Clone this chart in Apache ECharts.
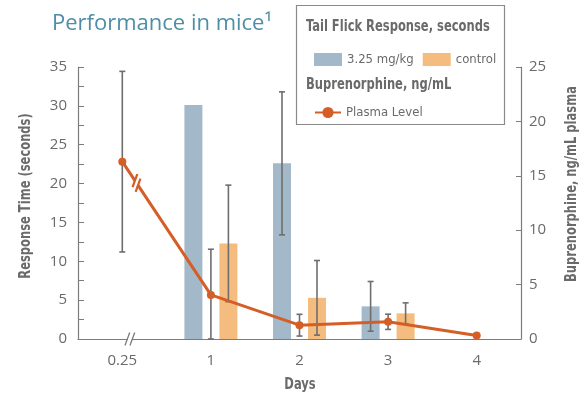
<!DOCTYPE html>
<html>
<head>
<meta charset="utf-8">
<script src="https://cdn.jsdelivr.net/npm/echarts@6/dist/echarts.min.js"></script>
<style>
  html, body { margin: 0; padding: 0; background: #fff; }
  #main { width: 585px; height: 393px; }
</style>
</head>
<body>
<div id="main"></div>
<script>
// values
var days = ['0.25', '1', '2', '3', '4'];
var dose = [null, 30.1, 22.6, 4.2, null];          // 3.25 mg/kg, seconds
var doseErr = [null, null, 9.2, 3.2, null];
var control = [null, 12.3, 5.3, 3.3, null];        // control, seconds
var controlErr = [null, 7.5, 4.8, 1.35, null];
var plasma = [16.3, 4.05, 1.27, 1.58, 0.32];       // ng/mL
var plasmaErr = [8.3, 4.2, 1.0, 0.7, null];

var blue = '#a3b8c8';
var orange = '#f4bc7e';
var red = '#d55e27';
var grayAxis = '#7c7c7c';
var grayText = '#6a6a6a';
var errColor = '#6e6e6e';
var narrow = '"DejaVu Sans Condensed", "Liberation Sans Narrow", sans-serif';
var barW = 18, barGapPx = 17;

function errData(vals, errs) {
  var out = [];
  for (var i = 0; i < vals.length; i++) {
    if (vals[i] == null || errs[i] == null) continue;
    out.push([i, Math.max(0, vals[i] - errs[i]), vals[i] + errs[i]]);
  }
  return out;
}

function errRender(offset) {
  return function (params, api) {
    var lo = api.coord([api.value(0), api.value(1)]);
    var hi = api.coord([api.value(0), api.value(2)]);
    var x = lo[0] + offset;
    var st = { stroke: errColor, lineWidth: 1.6 };
    return {
      type: 'group',
      children: [
        { type: 'line', shape: { x1: x, y1: hi[1], x2: x, y2: lo[1] }, style: st },
        { type: 'line', shape: { x1: x - 3, y1: hi[1], x2: x + 3, y2: hi[1] }, style: st },
        { type: 'line', shape: { x1: x - 3, y1: lo[1], x2: x + 3, y2: lo[1] }, style: st }
      ]
    };
  };
}

var chart = echarts.init(document.getElementById('main'));
var off = (barW + barGapPx) / 2;

var option = {
  animation: false,
  title: {
    text: 'Performance in mice\u00b9',
    left: 47, top: 8,
    textStyle: { color: '#4f8ea6', fontSize: 22, fontWeight: 'normal', fontFamily: '"Open Sans", sans-serif' }
  },
  legend: [{
    data: ['3.25 mg/kg', 'control'],
    left: 309, top: 48,
    itemWidth: 28, itemHeight: 13, itemGap: 9,
    icon: 'rect',
    textStyle: { color: grayText, fontSize: 13, fontFamily: narrow }
  }, {
    data: ['Plasma Level'],
    left: 309, top: 101,
    itemWidth: 26, itemHeight: 14,
    textStyle: { color: grayText, fontSize: 13, fontFamily: narrow }
  }],
  grid: { left: 78, right: 64, top: 67, bottom: 54 },
  xAxis: {
    type: 'category',
    data: days,
    axisLine: { lineStyle: { color: grayAxis, width: 1.2 } },
    axisTick: { show: false },
    axisLabel: { color: grayText, fontSize: 15, margin: 14, fontFamily: '"Open Sans", sans-serif' }
  },
  yAxis: [{
    type: 'value',
    min: 0, max: 35, interval: 5,
    axisLine: { show: true, lineStyle: { color: grayAxis, width: 1.2 } },
    axisTick: { show: true, inside: true, length: 6, lineStyle: { color: grayAxis } },
    minorTick: { show: true, splitNumber: 2, length: 6, lineStyle: { color: grayAxis } },
    splitLine: { show: false },
    axisLabel: { color: grayText, fontSize: 15, margin: 11, fontFamily: '"Open Sans", sans-serif' }
  }, {
    type: 'value',
    min: 0, max: 25, interval: 5,
    position: 'right',
    axisLine: { show: true, lineStyle: { color: grayAxis, width: 1.2 } },
    axisTick: { show: true, inside: true, length: 5, lineStyle: { color: grayAxis } },
    splitLine: { show: false },
    axisLabel: { color: grayText, fontSize: 15, margin: 8, fontFamily: '"Open Sans", sans-serif' }
  }],
  series: [{
    name: '3.25 mg/kg', type: 'bar', data: dose,
    barWidth: barW, barGap: (barGapPx / barW * 100) + '%',
    itemStyle: { color: blue }, z: 2
  }, {
    name: 'control', type: 'bar', data: control,
    barWidth: barW,
    itemStyle: { color: orange }, z: 2
  }, {
    type: 'custom', data: errData(dose, doseErr), renderItem: errRender(-off), z: 3, silent: true
  }, {
    type: 'custom', data: errData(control, controlErr), renderItem: errRender(off), z: 3, silent: true
  }, {
    type: 'custom', yAxisIndex: 1, data: errData(plasma, plasmaErr), renderItem: errRender(0), z: 3, silent: true
  }, {
    name: 'Plasma Level', type: 'line', yAxisIndex: 1, data: plasma,
    symbol: 'circle', symbolSize: 8,
    lineStyle: { color: red, width: 3 },
    itemStyle: { color: red },
    z: 5
  }]
};
chart.setOption(option);

// legend box, condensed bold labels and the axis-break marks
var p0 = chart.convertToPixel({ seriesIndex: 5 }, [0, plasma[0]]);
var p1 = chart.convertToPixel({ seriesIndex: 5 }, [1, plasma[1]]);
var t = 0.16;
var bx = p0[0] + (p1[0] - p0[0]) * t, by = p0[1] + (p1[1] - p0[1]) * t;
var dx = p1[0] - p0[0], dy = p1[1] - p0[1], dl = Math.sqrt(dx * dx + dy * dy);
dx /= dl; dy /= dl;
var sx = 0.34 * 7, sy = -0.94 * 7;
var ax = chart.convertToPixel({ xAxisIndex: 0 }, 0);
var axisY = chart.convertToPixel({ yAxisIndex: 0 }, 0);
var ab = 78 + (ax - 78) * 1.17;

function slash(cx, cy, color, w) {
  return { type: 'line', shape: { x1: cx - sx, y1: cy - sy, x2: cx + sx, y2: cy + sy }, style: { stroke: color, lineWidth: w } };
}
function boldText(str, x, y, rot, align) {
  return {
    type: 'text', x: x, y: y, rotation: rot || 0, scaleX: 0.8,
    style: { text: str, fill: grayText, font: 'bold 16px ' + narrow, align: align || 'left', verticalAlign: 'middle' }
  };
}

chart.setOption({
  graphic: [
    { type: 'rect', z: 0, shape: { x: 296.5, y: 5.5, width: 208, height: 119 }, style: { fill: '#fff', stroke: '#8a8a8a', lineWidth: 1.2 } },
    boldText('Tail Flick Response, seconds', 306, 27),
    boldText('Buprenorphine, ng/mL', 306, 85),
    boldText('Response Time (seconds)', 26, 196, Math.PI / 2, 'center'),
    boldText('Buprenorphine, ng/mL plasma', 572, 184, Math.PI / 2, 'center'),
    boldText('Days', 300, 385, 0, 'center'),
    // break on the plasma line
    { type: 'line', shape: { x1: bx - dx * 2.5, y1: by - dy * 2.5, x2: bx + dx * 2.5, y2: by + dy * 2.5 }, style: { stroke: '#fff', lineWidth: 5 } },
    slash(bx - dx * 2.8, by - dy * 2.8, red, 2.2),
    slash(bx + dx * 2.8, by + dy * 2.8, red, 2.2),
    // break on the x axis
    { type: 'rect', shape: { x: ab - 2, y: axisY - 2, width: 4, height: 4 }, style: { fill: '#fff' } },
    slash(ab - 2.5, axisY, grayAxis, 1.3),
    slash(ab + 2.5, axisY, grayAxis, 1.3)
  ].map(function (g) { if (g.z == null) g.z = 20; return g; })
});
</script>
</body>
</html>
